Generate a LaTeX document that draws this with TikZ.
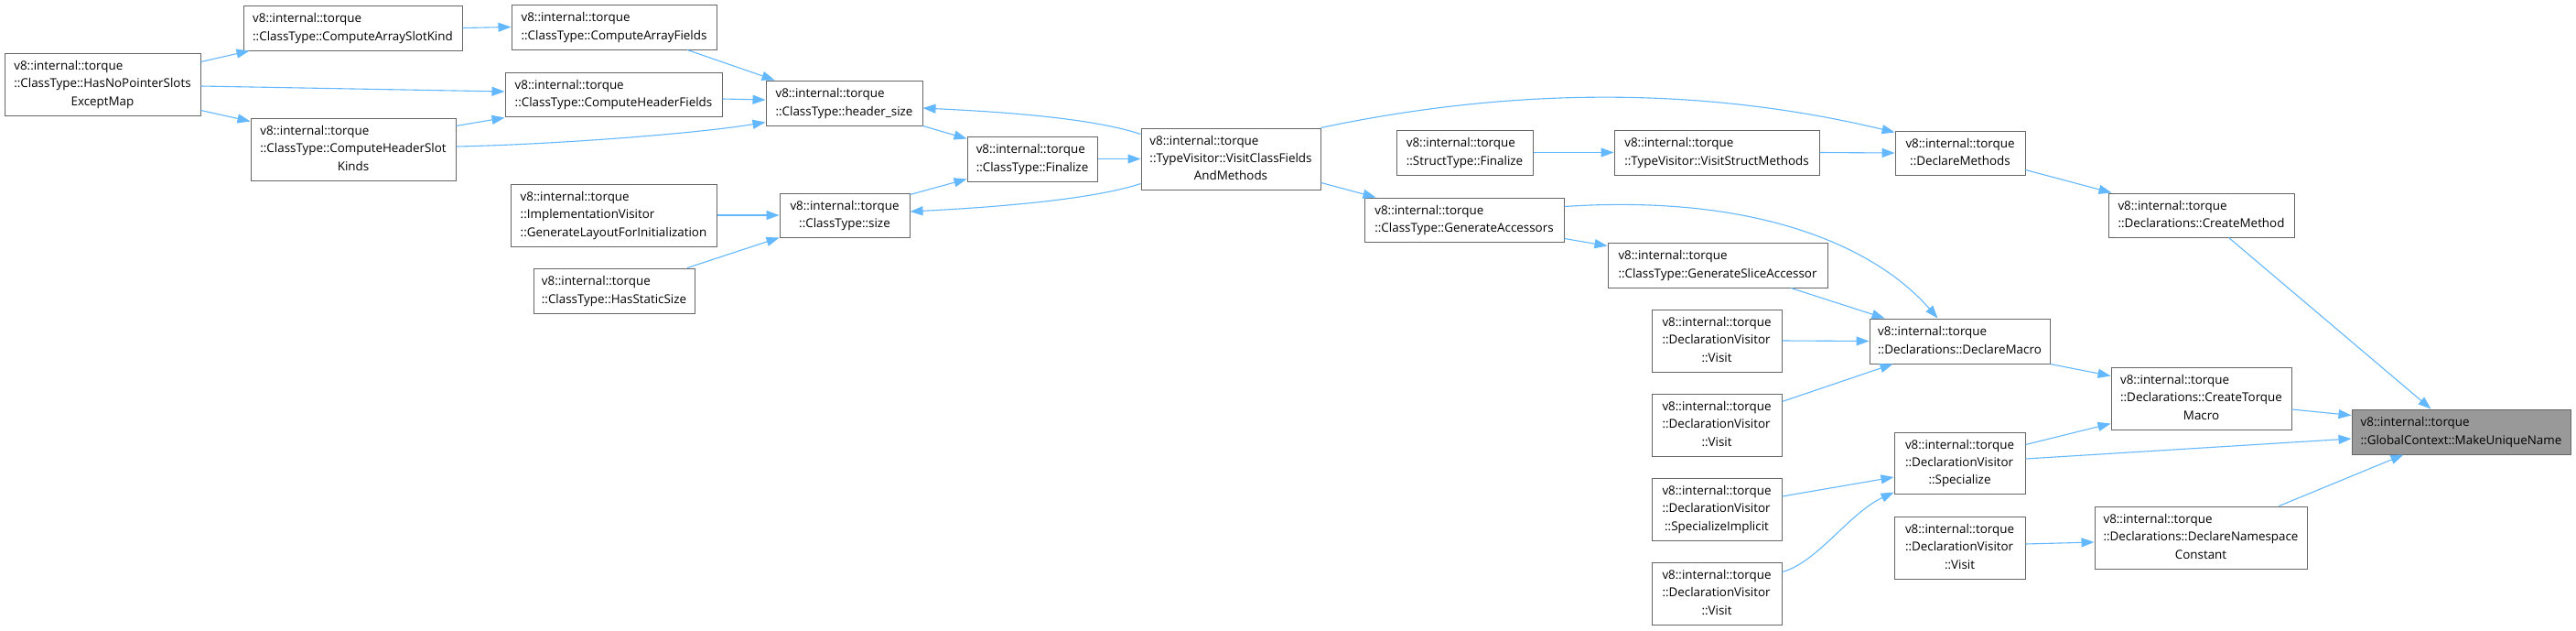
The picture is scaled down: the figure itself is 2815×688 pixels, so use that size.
\documentclass[tikz,border=0pt]{standalone}
\usepackage{fontspec}
\setmainfont{Open Sans}
\usetikzlibrary{arrows.meta}
\definecolor{edgeblue}{HTML}{63B8FF}
\definecolor{bordergray}{HTML}{666666}
\definecolor{rootgray}{HTML}{999999}
\newcommand\twol[2]{\begin{tabular}{@{}l@{}}#1\\\multicolumn{1}{@{}c@{}}{#2}\end{tabular}}
\newcommand\threel[3]{\begin{tabular}{@{}l@{}}#1\\#2\\\multicolumn{1}{@{}c@{}}{#3}\end{tabular}}
\newcommand\dnode[6][]{\node[box,#1,minimum width={(#4-#2)*1pt},minimum height={(#5-#3)*1pt}] (#6) at ({(#2+#4)/2},{(#3+#5)/2})}
\tikzset{
  box/.style={draw=bordergray, line width=1pt, fill=white, inner sep=0pt, text=black,
    font=\fontsize{13.4}{19.3}\selectfont},
  root/.style={fill=rootgray},
  call/.style={draw=edgeblue, line width=1.1pt, -{Triangle[length=14pt,width=10pt]}}
}
\begin{document}
\begin{tikzpicture}[x=1pt,y=-1pt]
\useasboundingbox[fill=white] (0,0) rectangle (2815,688);
\def\vit{v8::internal::torque}
% nodes
\dnode{5}{58}{219}{126}{hnp} {\threel{\vit}{::ClassType::HasNoPointerSlots}{ExceptMap}};
\dnode{266}{6}{505}{55}{casK} {\twol{\vit}{::ClassType::ComputeArraySlotKind}};
\dnode{559}{5}{783}{54}{caf} {\twol{\vit}{::ClassType::ComputeArrayFields}};
\dnode{552}{79}{789}{127}{chf} {\twol{\vit}{::ClassType::ComputeHeaderFields}};
\dnode{274}{129}{498}{197}{chsk} {\threel{\vit}{::ClassType::ComputeHeaderSlot}{Kinds}};
\dnode{837}{88}{1008}{137}{hs} {\twol{\vit}{::ClassType::header\_size}};
\dnode{558}{201}{783}{269}{glfi} {\threel{\vit}{::ImplementationVisitor}{::GenerateLayoutForInitialization}};
\dnode{852}{211}{994}{259}{sz} {\twol{\vit}{::ClassType::size}};
\dnode{583}{293}{759}{342}{hss} {\twol{\vit}{::ClassType::HasStaticSize}};
\dnode{1057}{149}{1199}{198}{fin} {\twol{\vit}{::ClassType::Finalize}};
\dnode{1247}{140}{1443}{207}{vcf} {\threel{\vit}{::TypeVisitor::VisitClassFields}{AndMethods}};
\dnode{1526}{142}{1675}{191}{sfin} {\twol{\vit}{::StructType::Finalize}};
\dnode{1764}{142}{1988}{191}{vsm} {\twol{\vit}{::TypeVisitor::VisitStructMethods}};
\dnode{2071}{143}{2213}{191}{dm} {\twol{\vit}{::DeclareMethods}};
\dnode{2304}{211}{2507}{259}{cm} {\twol{\vit}{::Declarations::CreateMethod}};
\dnode{1491}{216}{1709}{264}{ga} {\twol{\vit}{::ClassType::GenerateAccessors}};
\dnode{1757}{265}{1997}{314}{gsa} {\twol{\vit}{::ClassType::GenerateSliceAccessor}};
\dnode{2043}{348}{2240}{397}{dmac} {\twol{\vit}{::Declarations::DeclareMacro}};
\dnode{1805}{338}{1947}{406}{vA} {\threel{\vit}{::DeclarationVisitor}{::Visit}};
\dnode{1805}{430}{1947}{498}{vB} {\threel{\vit}{::DeclarationVisitor}{::Visit}};
\dnode{1805}{522}{1947}{590}{si} {\threel{\vit}{::DeclarationVisitor}{::SpecializeImplicit}};
\dnode{1805}{614}{1947}{682}{vC} {\threel{\vit}{::DeclarationVisitor}{::Visit}};
\dnode{2070}{472}{2213}{539}{sp} {\threel{\vit}{::DeclarationVisitor}{::Specialize}};
\dnode{2070}{564}{2213}{632}{vD} {\threel{\vit}{::DeclarationVisitor}{::Visit}};
\dnode{2307}{401}{2504}{469}{ctm} {\threel{\vit}{::Declarations::CreateTorque}{Macro}};
\dnode{2289}{553}{2521}{621}{dnc} {\threel{\vit}{::Declarations::DeclareNamespace}{Constant}};
\dnode[root]{2570}{447}{2809}{496}{mun} {\twol{\vit}{::GlobalContext::MakeUniqueName}};
% edges
\draw[call] ([yshift=-10pt]hnp.north east) -- ([xshift=7pt]casK.south west);
\draw[call] ([yshift=-2pt]hnp.east) -- ([yshift=3pt]chf.west);
\draw[call] ([yshift=6pt]hnp.south east) -- ([yshift=-4pt]chsk.north west);
\draw[call] (casK.east) -- (caf.west);
\draw[call] ([xshift=80pt]caf.south) -- ([xshift=10pt]hs.north west);
\draw[call] ([yshift=-5pt]chf.east) -- ([yshift=3.5pt]hs.west);
\draw[call] ([yshift=-9pt]chsk.north east) -- ([yshift=-1pt]chf.south west);
\draw[call] ([yshift=3pt]chsk.east) .. controls +(100,-2) and +(-80,13) .. ([yshift=4pt]hs.south west);
\draw[call] (hs.south east) -- ([yshift=-3pt]fin.north west);
\draw[call] ([yshift=-7pt]vcf.north west) .. controls +(-60,-20) and +(60,3) .. ([yshift=-5.5pt]hs.east);
\draw[call] ([yshift=7pt]vcf.south west) .. controls +(-60,20) and +(60,-3) .. ([yshift=4pt]sz.east);
\draw[call] ([yshift=-2pt]sz.north east) -- ([yshift=3pt]fin.south west);
\draw[call] (glfi.east) -- (sz.west);
\draw[call] ([xshift=80pt]hss.north) -- (sz.south west);
\draw[call] (fin.east) -- (vcf.west);
\draw[call] (vcf.north east) .. controls +(215,-45.5) and +(-204,-49) .. ([yshift=-2pt]dm.north west);
\draw[call] ([yshift=8pt]vcf.south east) -- ([xshift=13pt]ga.north west);
\draw[call] (sfin.east) -- (vsm.west);
\draw[call] (vsm.east) -- (dm.west);
\draw[call] ([yshift=6pt]dm.south east) -- ([xshift=4pt]cm.north west);
\draw[call] ([xshift=30pt]cm.south) -- ([xshift=-33pt]mun.north);
\draw[call] ([yshift=4pt]ga.south east) -- ([yshift=-4pt]gsa.north west);
\draw[call] ([yshift=-10pt]ga.north east) .. controls +(211,-14) and +(-68,-78) .. ([xshift=-24pt]dmac.north);
\draw[call] ([xshift=80pt]gsa.south) -- ([xshift=17pt]dmac.north west);
\draw[call] (vA.east) -- (dmac.west);
\draw[call] ([yshift=-9pt]vB.north east) -- ([xshift=26pt]dmac.south west);
\draw[call] (dmac.south east) -- ([yshift=-10pt]ctm.north west);
\draw[call] ([yshift=-12pt]ctm.east) -- ([yshift=-7pt]mun.north west);
\draw[call] ([yshift=-14pt]sp.north east) -- ([yshift=7pt]ctm.south west);
\draw[call] ([yshift=4.5pt]sp.east) -- ([yshift=-7.5pt]mun.west);
\draw[call] ([yshift=14pt]si.east) -- ([yshift=-15.5pt]sp.west);
\draw[call] ([yshift=-11pt]vC.north east) .. controls +(38,-10) and +(-49,23) .. ([yshift=2pt]sp.south west);
\draw[call] ([yshift=4pt]vD.east) -- ([yshift=-5pt]dnc.west);
\draw[call] ([xshift=-31pt]dnc.north east) -- ([xshift=-63pt]mun.south);
\end{tikzpicture}
\end{document}
